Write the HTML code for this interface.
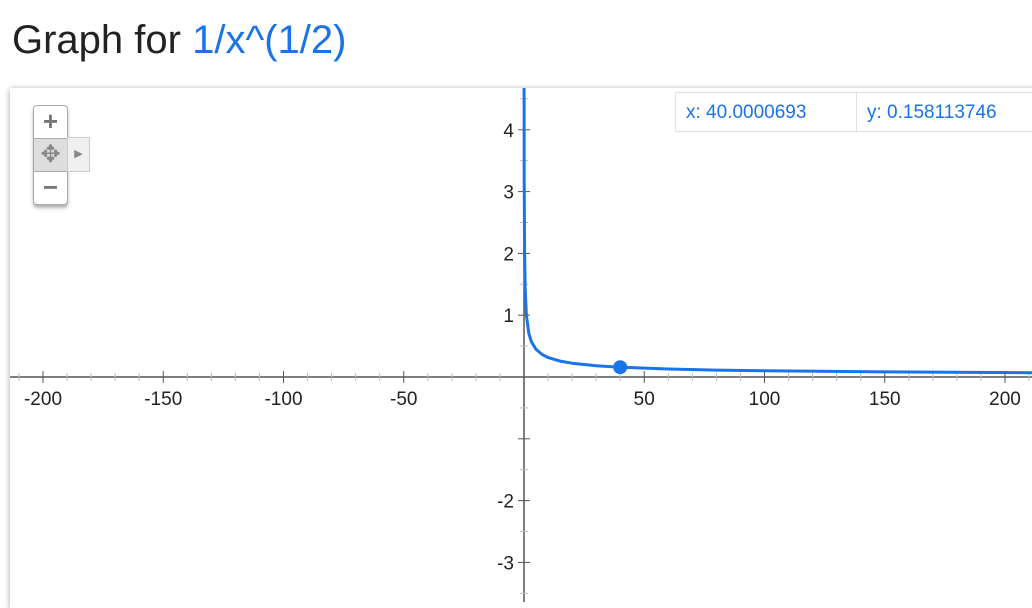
<!DOCTYPE html>
<html><head><meta charset="utf-8"><style>
body{margin:0;width:1032px;height:602px;background:#fff;overflow:hidden;font-family:"Liberation Sans",Arial,sans-serif;position:relative}
#title{position:absolute;left:12px;top:18px;font-size:40px;color:#222;white-space:nowrap}
#title span{color:#1a73e8}
#plot{position:absolute;left:10px;top:88px;width:1030px;height:520px;box-shadow:0 1px 6px rgba(0,0,0,.35);background:#fff}
svg{position:absolute;left:0;top:0}
.tip{position:absolute;top:92px;height:40px;border:1px solid #e3e3e3;background:#fff;color:#1a73e8;font-size:19px;line-height:40px;box-sizing:border-box;padding-left:10px}
#zoom{position:absolute;left:33px;top:105px;width:33px;height:98px;border:1px solid #aaa;border-radius:4px;background:#fff;box-shadow:0 3px 3px rgba(0,0,0,.3)}
</style></head><body>
<div id="title">Graph for <span>1/x^(1/2)</span></div>
<div id="plot"></div>
<svg id="chart" width="1032" height="602"></svg>
<div id="zoom">
 <div style="height:32px;text-align:center;font-size:26px;line-height:30px;color:#777;font-weight:bold">+</div>
 <div style="height:32px;background:#ddd;border-top:1px solid #aaa;border-bottom:1px solid #aaa;text-align:center;font-size:24px;line-height:32px;color:#888">✥</div>
 <div style="height:32px;text-align:center;font-size:26px;line-height:30px;color:#777;font-weight:bold">−</div>
</div>
<div style="position:absolute;left:67px;top:137px;width:21px;height:33px;border:1px solid #ccc;background:#f0f0f0;color:#888;font-size:11px;line-height:33px;text-align:center">▶</div>
<div class="tip" style="left:675px;width:182px">x: 40.0000693</div>
<div class="tip" style="left:856px;width:180px">y: 0.158113746</div>
<script>
const xTicks=[-200,-150,-100,-50,50,100,150,200];
const yTicks=[4,3,2,1,-2,-3];
const curveX=[0.05,0.1,0.25,0.5,1,2,3,5,7.5,10,15,20,30,40,60,80,100,150,215];
const curveY=[4.47,3.16,2,1.414,1,0.707,0.577,0.447,0.365,0.316,0.258,0.224,0.183,0.158,0.129,0.112,0.1,0.082,0.068];
const pointX=[40],pointY=[0.158];
const NS="http://www.w3.org/2000/svg",svg=document.getElementById('chart');
const X=v=>524+v*2.405, Y=v=>377-v*61.8;
function mk(t,a){const e=document.createElementNS(NS,t);for(const k in a)e.setAttribute(k,a[k]);svg.appendChild(e);return e;}
let e=mk('line',{x1:10,x2:1032,y1:377,y2:377,stroke:'#555','stroke-width':1.5});

e=mk('line',{x1:524,x2:524,y1:88,y2:602,stroke:'#555','stroke-width':1.5});

for(let v=-210;v<=210;v+=10){if(!v)continue;const big=v%50===0;
 e=mk('line',{x1:X(v),x2:X(v),y1:377-(big?6:4),y2:377+(big?6:4),stroke:big?'#555':'#bbb','stroke-width':1});
 }
for(let v=-3.5;v<=4.5;v+=0.5){if(!v)continue;const big=Number.isInteger(v);
 e=mk('line',{x1:524-(big?6:4),x2:524+(big?6:4),y1:Y(v),y2:Y(v),stroke:big?'#555':'#bbb','stroke-width':1});
 }
xTicks.forEach(v=>{e=mk('text',{x:X(v),y:405,'text-anchor':'middle','font-size':19,fill:'#222','font-family':'Liberation Sans'});e.textContent=v;
 });
yTicks.forEach(v=>{e=mk('text',{x:514,y:Y(v)+7,'text-anchor':'end','font-size':19,fill:'#222','font-family':'Liberation Sans'});e.textContent=v;
 });
let d=curveX.map((x,i)=>(i?'L':'M')+X(x).toFixed(1)+','+Math.max(88,Y(curveY[i])).toFixed(1)).join('');
d='M'+X(0.02)+',88L'+d.slice(1);
e=mk('path',{d:d,fill:'none',stroke:'#1a73e8','stroke-width':3,'stroke-linejoin':'round'});

pointX.forEach((x,i)=>{e=mk('circle',{cx:X(x),cy:Y(pointY[i]),r:7,fill:'#1a73e8'});
 });
</script>
</body></html>
